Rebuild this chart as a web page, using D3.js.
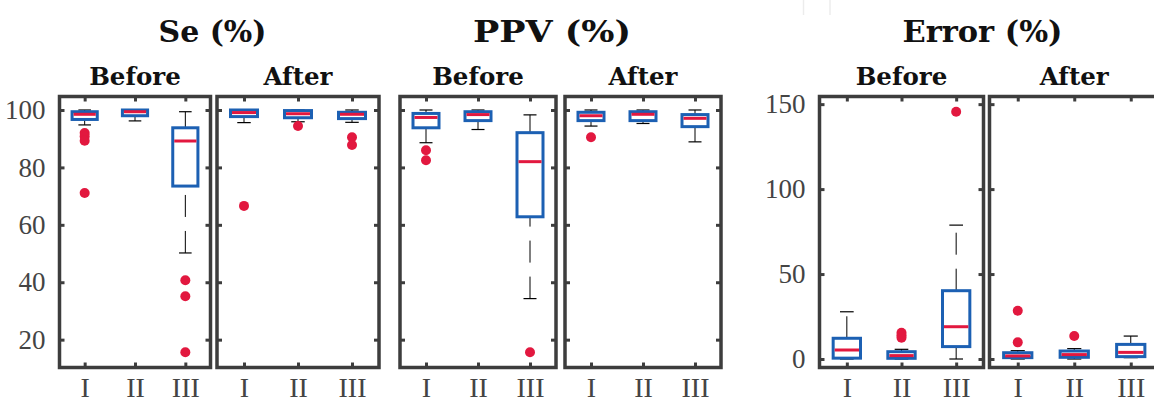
<!DOCTYPE html>
<html>
<head>
<meta charset="utf-8">
<script src="https://cdn.jsdelivr.net/npm/d3@7"></script>
<style>
  body { margin: 0; background: #fff; }
  svg { display: block; }
</style>
</head>
<body>
<div id="chart"></div>
<script>
// Box stats
// lo / hi = whisker ends, q1 / med / q3 = the box, out = outliers

const categories = ['I', 'II', 'III'];
const seTicks = [20, 40, 60, 80, 100];
const errorTicks = [0, 50, 100, 150];

const seBefore = [
    { lo: 94.8, q1: 96.7, med: 98.5, q3: 99.4, hi: 100, out: [92, 90.8, 89.3, 71.1] },
    { lo: 96.2, q1: 98.0, med: 99.4, q3: 100, hi: 100, out: [] },
    { lo: 50.2, q1: 73.5, med: 89.2, q3: 93.8, hi: 99.4, out: [40.7, 35.1, 15.6] }
];
const seAfter = [
    { lo: 95.6, q1: 97.7, med: 99.1, q3: 100, hi: 100, out: [66.6] },
    { lo: 95.9, q1: 97.3, med: 98.7, q3: 99.8, hi: 100, out: [94.4] },
    { lo: 95.7, q1: 97.0, med: 98.5, q3: 99.2, hi: 100, out: [90.5, 87.8] }
];
const ppvBefore = [
    { lo: 88.6, q1: 93.8, med: 97.4, q3: 98.8, hi: 100, out: [86.0, 82.5] },
    { lo: 93.2, q1: 96.3, med: 98.4, q3: 99.4, hi: 100, out: [] },
    { lo: 34.3, q1: 62.8, med: 82.0, q3: 92.1, hi: 98.3, out: [15.6] }
];
const ppvAfter = [
    { lo: 94.4, q1: 96.3, med: 98.0, q3: 99.2, hi: 100, out: [90.5] },
    { lo: 95.3, q1: 96.3, med: 98.5, q3: 99.4, hi: 100, out: [] },
    { lo: 88.9, q1: 94.2, med: 97.1, q3: 98.4, hi: 100, out: [] }
];
const errorBefore = [
    { lo: 0, q1: 0.5, med: 5.3, q3: 12.2, hi: 27.8, out: [] },
    { lo: 0, q1: 0.4, med: 2.0, q3: 4.3, hi: 5.7, out: [15.5, 14.0, 12.5] },
    { lo: 0, q1: 7.3, med: 19.0, q3: 40.2, hi: 78.8, out: [145.5] }
];
const errorAfter = [
    { lo: 0, q1: 0.8, med: 1.8, q3: 3.7, hi: 4.9, out: [9.8, 28.4] },
    { lo: 0, q1: 1.0, med: 2.6, q3: 4.7, hi: 6.1, out: [13.5] },
    { lo: 0.8, q1: 1.4, med: 3.9, q3: 8.6, hi: 13.5, out: [] }
];

// Canvas

const width = 1154;
const height = 404;

const svg = d3.select('#chart')
    .append('svg')
    .attr('width', width)
    .attr('height', height)

const frameColor = '#3d3d3d';
const boxColor = '#1c60b3';
const redColor = '#e2183f';
const serif = "'Liberation Serif', 'Times New Roman', serif";
const boldSerif = "'DejaVu Serif', serif";

// all panels share the same vertical extent
const yTop = 96.5;
const yBottom = 367.5;

const seScale = d3.scaleLinear().domain([10.3, 104.7]).range([yBottom, yTop]);
const errorScale = d3.scaleLinear().domain([-5, 154.5]).range([yBottom, yTop]);

const metrics = [
    { title: 'Se (%)', titleX: 212.5, titleW: 108, yScale: seScale, ticks: seTicks, labels: true, panels: [
        { name: 'Before', x0: 59.5, x1: 210.5, data: seBefore },
        { name: 'After', x0: 217, x1: 379, data: seAfter }] },
    { title: 'PPV (%)', titleX: 552, titleW: 158, yScale: seScale, ticks: seTicks, labels: false, panels: [
        { name: 'Before', x0: 400, x1: 556, data: ppvBefore },
        { name: 'After', x0: 565, x1: 721, data: ppvAfter }] },
    { title: 'Error (%)', titleX: 982.5, titleW: 160, yScale: errorScale, ticks: errorTicks, labels: true, panels: [
        { name: 'Before', x0: 819.5, x1: 983.5, data: errorBefore },
        { name: 'After', x0: 989.5, x1: 1159, data: errorAfter }] }
];

// faint leftover lines at the top of the original crop
svg.selectAll('line.ghost')
    .data([803.5, 830])
    .enter()
    .append('line')
    .attr('x1', d => d).attr('x2', d => d)
    .attr('y1', 0).attr('y2', 15)
    .attr('stroke', '#ececec')
    .attr('stroke-width', 1.5)

metrics.forEach(m => {
    svg.append('text')
        .attr('x', m.titleX - m.titleW / 2)
        .attr('y', 42)
        .attr('textLength', m.titleW)
        .attr('lengthAdjust', 'spacingAndGlyphs')
        .attr('font-family', boldSerif)
        .attr('font-weight', 'bold')
        .attr('font-size', 29.5)
        .attr('fill', '#111')
        .text(m.title)

    m.panels.forEach((p, i) => {
        const x = d3.scaleLinear().domain([0.5, 3.5]).range([p.x0, p.x1]);
        const y = m.yScale;
        const unit = x(2) - x(1);
        const g = svg.append('g');

        g.append('text')
            .attr('x', (p.x0 + p.x1) / 2)
            .attr('y', 85)
            .attr('text-anchor', 'middle')
            .attr('font-family', boldSerif)
            .attr('font-weight', 'bold')
            .attr('font-size', 24.5)
            .attr('fill', '#111')
            .text(p.name)

        // axes, ticks pointing inwards
        const xBottom = d3.axisBottom(x).tickValues([1, 2, 3])
            .tickFormat(d => categories[d - 1]).tickSize(-5).tickSizeOuter(0).tickPadding(9.5);
        const xTop = d3.axisTop(x).tickValues([1, 2, 3])
            .tickFormat('').tickSize(-5).tickSizeOuter(0);
        const yLeft = d3.axisLeft(y).tickValues(m.ticks)
            .tickFormat(m.labels && i === 0 ? d3.format('d') : '').tickSize(-5).tickSizeOuter(0).tickPadding(14);
        const yRight = d3.axisRight(y).tickValues(m.ticks)
            .tickFormat('').tickSize(-5).tickSizeOuter(0);

        const axes = [
            g.append('g').attr('transform', 'translate(0,' + yBottom + ')').call(xBottom),
            g.append('g').attr('transform', 'translate(0,' + yTop + ')').call(xTop),
            g.append('g').attr('transform', 'translate(' + p.x0 + ',0)').call(yLeft),
            g.append('g').attr('transform', 'translate(' + p.x1 + ',0)').call(yRight)
        ];
        axes.forEach(a => {
            a.select('.domain').remove();
            a.selectAll('.tick line').attr('stroke', frameColor).attr('stroke-width', 3);
            a.selectAll('.tick text').attr('fill', '#444').attr('font-family', serif);
        });
        axes[0].selectAll('.tick text').attr('font-size', 28);
        axes[2].selectAll('.tick text').attr('font-size', 27);

        g.append('rect')
            .attr('x', p.x0)
            .attr('y', yTop)
            .attr('width', p.x1 - p.x0)
            .attr('height', yBottom - yTop)
            .attr('fill', 'none')
            .attr('stroke', frameColor)
            .attr('stroke-width', 3.5)

        const boxes = g.selectAll('g.box')
            .data(p.data)
            .enter()
            .append('g')
            .attr('class', 'box')

        // whiskers are drawn from the low end upwards, so the dash pattern starts there
        boxes.append('path')
            .attr('d', (d, j) => 'M' + x(j + 1) + ',' + y(d.lo) + 'V' + y(d.q1))
            .attr('stroke', '#000').attr('stroke-width', 1).attr('stroke-dasharray', '22,14')
        boxes.append('path')
            .attr('d', (d, j) => 'M' + x(j + 1) + ',' + y(d.q3) + 'V' + y(d.hi))
            .attr('stroke', '#000').attr('stroke-width', 1).attr('stroke-dasharray', '22,14')

        // whisker caps
        boxes.selectAll('line.cap')
            .data((d, j) => [{ v: d.lo, j: j }, { v: d.hi, j: j }])
            .enter()
            .append('line')
            .attr('class', 'cap')
            .attr('x1', d => x(d.j + 1 - 0.125))
            .attr('x2', d => x(d.j + 1 + 0.125))
            .attr('y1', d => y(d.v))
            .attr('y2', d => y(d.v))
            .attr('stroke', '#000')
            .attr('stroke-width', 1.2)

        boxes.append('rect')
            .attr('x', (d, j) => x(j + 1) - unit * 0.25)
            .attr('y', d => y(d.q3))
            .attr('width', unit * 0.5)
            .attr('height', d => y(d.q1) - y(d.q3))
            .attr('fill', 'none')
            .attr('stroke', boxColor)
            .attr('stroke-width', 3)

        boxes.append('line')
            .attr('x1', (d, j) => x(j + 1) - unit * 0.25 + 1.5)
            .attr('x2', (d, j) => x(j + 1) + unit * 0.25 - 1.5)
            .attr('y1', d => y(d.med))
            .attr('y2', d => y(d.med))
            .attr('stroke', redColor)
            .attr('stroke-width', 3)

        boxes.selectAll('circle')
            .data((d, j) => d.out.map(v => ({ v: v, j: j })))
            .enter()
            .append('circle')
            .attr('cx', d => x(d.j + 1))
            .attr('cy', d => y(d.v))
            .attr('r', 5)
            .attr('fill', redColor)
    });
});
</script>
</body>
</html>
